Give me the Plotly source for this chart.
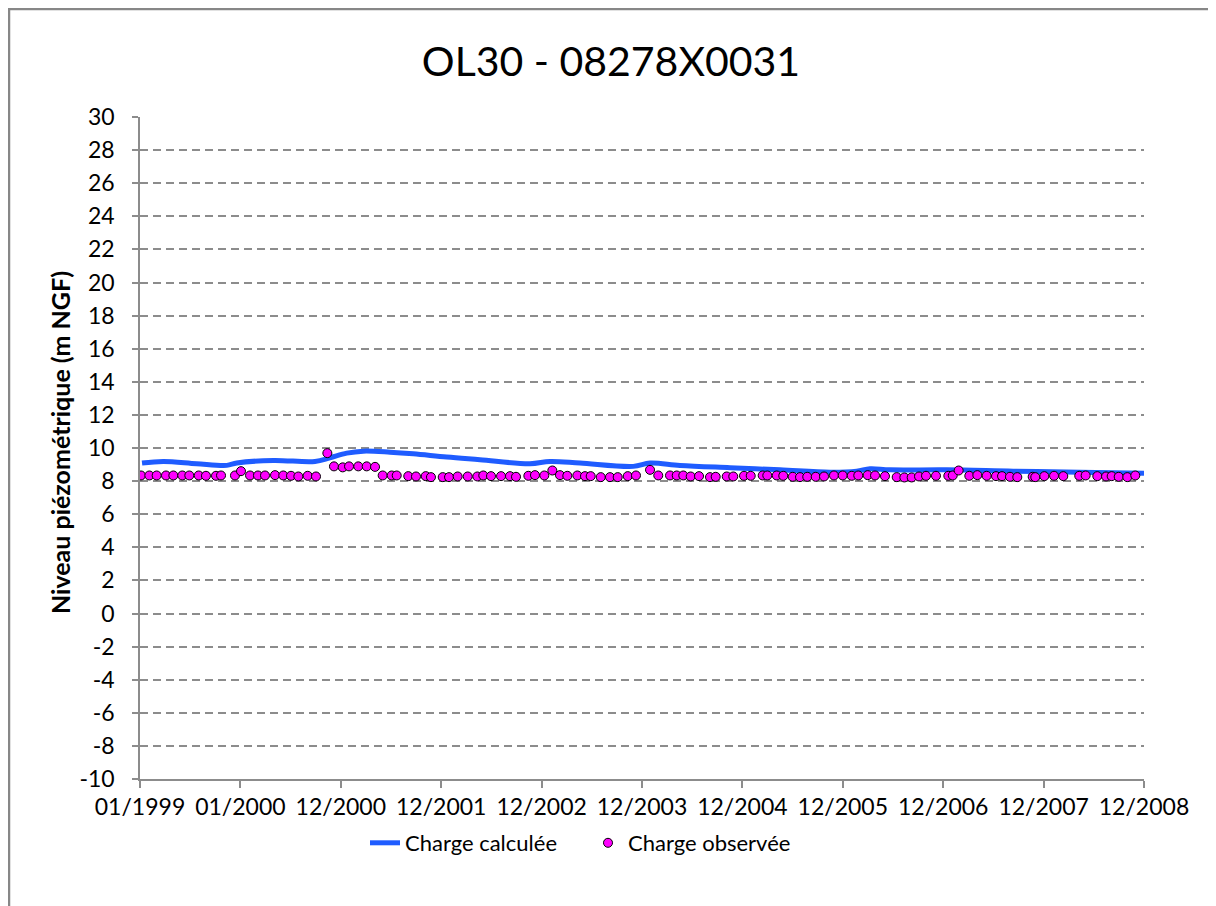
import plotly.graph_objects as go

# Tick positions / labels on the time axis (equally spaced categories)
tick_pos = [0, 1, 2, 3, 4, 5, 6, 7, 8, 9, 10]
tick_labels = ["01/1999", "01/2000", "12/2000", "12/2001", "12/2002", "12/2003",
               "12/2004", "12/2005", "12/2006", "12/2007", "12/2008"]

# y-axis ticks (Excel style hyphen minus)
y_ticks = [-10, -8, -6, -4, -2, 0, 2, 4, 6, 8, 10, 12, 14, 16, 18, 20, 22, 24, 26, 28, 30]
y_tick_labels = ["-10", "-8", "-6", "-4", "-2", "0", "2", "4", "6", "8", "10", "12",
                 "14", "16", "18", "20", "22", "24", "26", "28", "30"]

# Charge calculée (simulated head)
calc_x = [0.02, 0.232, 0.565, 0.864, 0.963, 1.328, 1.743, 1.892, 2.059, 2.224, 2.490,
          2.722, 3.055, 3.386, 3.884, 4.084, 4.382, 4.913, 5.080, 5.378, 5.876, 6.375,
          6.873, 7.138, 7.271, 7.470, 8.035, 8.698, 9.363, 10.0]
calc_y = [9.09, 9.19, 9.05, 8.95, 9.09, 9.25, 9.19, 9.41, 9.69, 9.81, 9.75,
          9.65, 9.45, 9.29, 9.05, 9.19, 9.09, 8.89, 9.09, 8.95, 8.81, 8.68,
          8.54, 8.60, 8.75, 8.68, 8.68, 8.60, 8.54, 8.48]

# Charge observée (observed head)
obs_x = [0.010, 0.093, 0.166, 0.259, 0.332, 0.421, 0.491, 0.585, 0.657, 0.757,
         0.807, 0.946, 1.006, 1.096, 1.175, 1.245, 1.345, 1.427, 1.504, 1.577,
         1.670, 1.753, 1.866, 1.932, 2.019, 2.082, 2.174, 2.258, 2.341, 2.417,
         2.507, 2.557, 2.672, 2.749, 2.846, 2.898, 3.015, 3.078, 3.164, 3.264,
         3.360, 3.419, 3.496, 3.596, 3.685, 3.745, 3.868, 3.934, 4.027, 4.107,
         4.183, 4.256, 4.356, 4.432, 4.489, 4.589, 4.681, 4.758, 4.858, 4.940,
         5.080, 5.162, 5.279, 5.346, 5.411, 5.485, 5.568, 5.677, 5.734, 5.844,
         5.909, 6.016, 6.083, 6.202, 6.248, 6.342, 6.407, 6.501, 6.574, 6.646,
         6.730, 6.813, 6.912, 6.999, 7.089, 7.154, 7.248, 7.321, 7.420, 7.537,
         7.613, 7.686, 7.759, 7.829, 7.928, 8.051, 8.095, 8.154, 8.260, 8.340,
         8.433, 8.526, 8.586, 8.665, 8.738, 8.891, 8.917, 9.007, 9.104, 9.196,
         9.355, 9.419, 9.535, 9.622, 9.678, 9.748, 9.834, 9.913]
obs_y = [8.34, 8.34, 8.34, 8.34, 8.34, 8.34, 8.34, 8.34, 8.32, 8.32,
         8.34, 8.34, 8.60, 8.34, 8.34, 8.34, 8.36, 8.34, 8.32, 8.28,
         8.32, 8.28, 9.69, 8.89, 8.83, 8.89, 8.89, 8.89, 8.86, 8.34,
         8.34, 8.34, 8.30, 8.28, 8.30, 8.24, 8.24, 8.24, 8.28, 8.28,
         8.28, 8.34, 8.30, 8.30, 8.30, 8.26, 8.32, 8.36, 8.34, 8.64,
         8.36, 8.32, 8.34, 8.30, 8.30, 8.24, 8.24, 8.24, 8.30, 8.34,
         8.68, 8.34, 8.34, 8.34, 8.34, 8.28, 8.30, 8.24, 8.26, 8.28,
         8.28, 8.32, 8.32, 8.34, 8.34, 8.34, 8.32, 8.26, 8.24, 8.26,
         8.26, 8.28, 8.34, 8.34, 8.32, 8.34, 8.36, 8.34, 8.30, 8.24,
         8.22, 8.22, 8.28, 8.32, 8.32, 8.32, 8.34, 8.64, 8.32, 8.36,
         8.32, 8.30, 8.30, 8.26, 8.24, 8.26, 8.24, 8.30, 8.32, 8.30,
         8.32, 8.34, 8.30, 8.28, 8.30, 8.26, 8.24, 8.34]

FONT = "Lato"
GRID = "#8c8c8c"

fig = go.Figure()
fig.add_trace(go.Scatter(
    x=calc_x, y=calc_y, mode="lines", name="Charge calculée",
    line=dict(color="#1f5cff", width=5, shape="spline", smoothing=1.0),
))
fig.add_trace(go.Scatter(
    x=obs_x, y=obs_y, mode="markers", name="Charge observée",
    marker=dict(color="#ff00ff", size=9, line=dict(color="#000000", width=1)),
))

# The page has an 8px body margin; target plot area on page: x 140..1144, y 117..779
OFF = 8
FW, FH = 1216 - OFF, 906 - OFF
L, R, T, B = 140, 1144, 117, 779
W, H = R - L, B - T

def px(xp):
    return (xp - L) / W

def py(yp):
    return (B - yp) / H

fig.update_layout(
    width=FW, height=FH, autosize=False,
    margin=dict(l=L - OFF, r=FW - (R - OFF), t=T - OFF, b=FH - (B - OFF), pad=0),
    paper_bgcolor="white", plot_bgcolor="white",
    font=dict(family=FONT, size=22, color="#000000"),
    title=dict(text="OL30 - 08278X0031", x=(611 - OFF) / FW, xanchor="center",
               y=1 - (62 - OFF) / FH, yanchor="middle",
               font=dict(family=FONT, size=41, color="#000000")),
    showlegend=True,
    legend=dict(orientation="h", x=px(365), xanchor="left", y=py(843), yanchor="middle",
                font=dict(family=FONT, size=22), tracegroupgap=0,
                entrywidth=178, entrywidthmode="pixels",
                bgcolor="rgba(0,0,0,0)"),
    xaxis=dict(range=[0, 10], tickmode="array", tickvals=tick_pos, ticktext=tick_labels,
               showgrid=False, zeroline=False, showline=True, linecolor=GRID, linewidth=1.5,
               ticks="outside", ticklen=7, tickcolor=GRID, tickwidth=1.5,
               tickfont=dict(family=FONT, size=23, color="#000000")),
    yaxis=dict(range=[-10, 30], tickmode="array", tickvals=y_ticks, ticktext=y_tick_labels,
               showgrid=True, gridcolor=GRID, gridwidth=1.5, griddash="8px,5px",
               zeroline=False, showline=True, linecolor=GRID, linewidth=1.5,
               ticks="outside", ticklen=6, tickcolor=GRID, tickwidth=1.5,
               ticklabelstandoff=13,
               tickfont=dict(family=FONT, size=23, color="#000000")),
    annotations=[dict(text="<b>Niveau piézométrique (m NGF)</b>", textangle=-90,
                      xref="paper", yref="paper", x=px(60), y=py(443),
                      xanchor="center", yanchor="middle", showarrow=False,
                      font=dict(family=FONT, size=25, color="#000000"))],
    shapes=[dict(type="rect", xref="paper", yref="paper",
                 x0=px(9), x1=px(1222), y0=py(9), y1=py(915),
                 line=dict(color="#878787", width=2.5), fillcolor="rgba(0,0,0,0)",
                 layer="below")],
)

fig.write_html("out.html")
